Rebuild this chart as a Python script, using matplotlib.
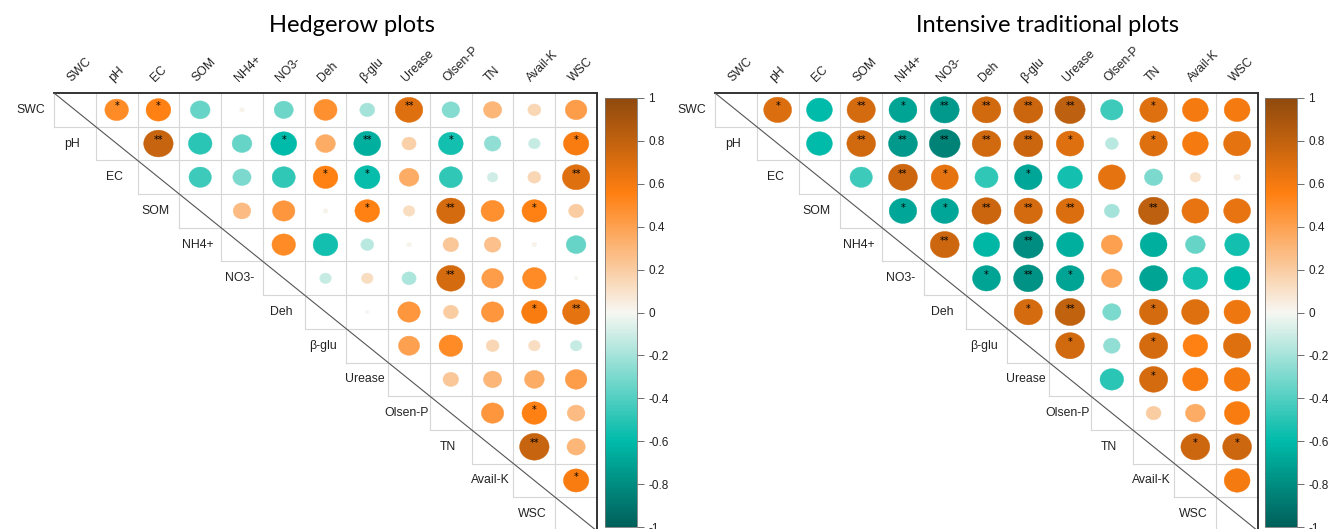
import numpy as np
import matplotlib
matplotlib.use("Agg")
import matplotlib.pyplot as plt
from matplotlib.patches import Ellipse
from matplotlib.colors import LinearSegmentedColormap, Normalize
from matplotlib.cm import ScalarMappable

variables = ["SWC", "pH", "EC", "SOM", "NH4+", "NO3-", "Deh", "β-glu",
             "Urease", "Olsen-P", "TN", "Avail-K", "WSC"]

# upper triangle: row i holds r(i, j) for j = i+1 .. 12
hedge_r = [
    [0.50, 0.55, -0.35, 0.02, -0.33, 0.48, -0.20, 0.68, -0.28, 0.30, 0.15, 0.42],
    [0.78, -0.50, -0.35, -0.60, 0.35, -0.65, 0.18, -0.55, -0.25, -0.12, 0.58],
    [-0.45, -0.30, -0.48, 0.55, -0.58, 0.35, -0.48, -0.10, 0.15, 0.68],
    [0.28, 0.45, 0.02, 0.55, 0.12, 0.72, 0.48, 0.55, 0.20],
    [0.50, -0.55, -0.15, 0.02, 0.22, 0.25, 0.02, -0.35],
    [-0.12, 0.12, -0.18, 0.72, 0.42, 0.50, 0.01],
    [0.01, 0.45, 0.20, 0.45, 0.58, 0.66],
    [0.40, 0.50, 0.15, 0.12, -0.12],
    [0.22, 0.30, 0.35, 0.42],
    [0.45, 0.55, 0.28],
    [0.78, 0.30],
    [0.58],
]
hedge_sig = [
    ["*", "*", "", "", "", "", "", "**", "", "", "", ""],
    ["**", "", "", "*", "", "**", "", "*", "", "", "*"],
    ["", "", "", "*", "*", "", "", "", "", "**"],
    ["", "", "", "*", "", "**", "", "*", ""],
    ["", "", "", "", "", "", "", ""],
    ["", "", "", "**", "", "", ""],
    ["", "", "", "", "*", "**"],
    ["", "", "", "", ""],
    ["", "", "", ""],
    ["", "*", ""],
    ["**", ""],
    ["*"],
]

intens_r = [
    [0.70, -0.60, 0.72, -0.70, -0.75, 0.74, 0.76, 0.82, -0.45, 0.68, 0.60, 0.60],
    [-0.60, 0.74, -0.75, -0.85, 0.74, 0.76, 0.68, -0.15, 0.68, 0.60, 0.66],
    [-0.45, 0.75, 0.66, -0.48, -0.68, -0.55, 0.66, -0.30, 0.10, 0.04],
    [-0.68, -0.68, 0.76, 0.72, 0.70, -0.20, 0.82, 0.65, 0.65],
    [0.75, -0.62, -0.80, -0.65, 0.40, -0.65, -0.35, -0.55],
    [-0.70, -0.78, -0.70, 0.38, -0.70, -0.55, -0.60],
    [0.72, 0.80, -0.30, 0.72, 0.68, 0.62],
    [0.74, -0.25, 0.72, 0.55, 0.68],
    [-0.50, 0.72, 0.58, 0.60],
    [0.20, 0.35, 0.58],
    [0.75, 0.75],
    [0.60],
]
intens_sig = [
    ["*", "", "**", "*", "**", "**", "**", "**", "", "*", "", ""],
    ["", "**", "**", "**", "**", "**", "*", "", "*", "", ""],
    ["", "**", "*", "", "*", "", "", "", "", ""],
    ["*", "*", "**", "**", "**", "", "**", "", ""],
    ["**", "", "**", "", "", "", "", ""],
    ["*", "**", "*", "", "", "", ""],
    ["*", "**", "", "*", "", ""],
    ["*", "", "*", "", ""],
    ["", "*", "", ""],
    ["", "", ""],
    ["*", "*"],
    [""],
]

cbar_ticks = [-1, -0.8, -0.6, -0.4, -0.2, 0, 0.2, 0.4, 0.6, 0.8, 1]

cmap = LinearSegmentedColormap.from_list("tealorange", [
    (0.0, "#00605A"), (0.2, "#00BBA9"), (0.5, "#F7F7F2"),
    (0.78, "#FF7F10"), (1.0, "#8F4A0E")])
norm = Normalize(-1, 1)

W, H = 1332, 529
LBL = dict(family="Liberation Sans", fontsize=8.8, color="#222222")


def draw_panel(ax, r_rows, sig_rows, cell_w, cell_h):
    n = len(variables)
    ax.set_xlim(0, n)
    ax.set_ylim(n, 0)
    ax.axis("off")
    grid = "#D6D6D6"
    # cell grid of the upper triangle
    for i in range(n):
        ax.plot([i, n], [i + 1, i + 1], color=grid, lw=0.8, clip_on=False)
        ax.plot([i, i], [0, i + 1], color=grid, lw=0.8, clip_on=False)
    ax.plot([0, n], [0, 0], color="#333333", lw=1.4, clip_on=False)
    ax.plot([n, n], [0, n], color="#333333", lw=1.4, clip_on=False)
    ax.plot([0, n], [0, n], color="#555555", lw=0.8, clip_on=False)

    ratio = cell_h / cell_w * 1.1
    for i, row in enumerate(r_rows):
        for k, r in enumerate(row):
            j = i + 1 + k
            h = 0.9 * np.sqrt(abs(r))
            c = cmap(norm(r))
            ax.add_patch(Ellipse((j + 0.5, i + 0.5), h * ratio, h,
                                 facecolor=c, edgecolor=c, lw=0.3))
            s = sig_rows[i][k]
            if s:
                ax.text(j + 0.5, i + 0.4, s, ha="center", va="center",
                        fontsize=7, color="black")

    for i, name in enumerate(variables):
        ax.text(i - 0.56, i + 0.5, name, ha="center", va="center", **LBL)
        ax.text(i + 0.42, -0.33, name, ha="left", va="baseline", rotation=45,
                rotation_mode="anchor", clip_on=False, **LBL)


def draw_cbar(cax):
    cb = plt.colorbar(ScalarMappable(norm=norm, cmap=cmap), cax=cax)
    cb.set_ticks(cbar_ticks)
    cb.set_ticklabels(["%g" % t for t in cbar_ticks])
    cb.outline.set_edgecolor("#777777")
    cb.outline.set_linewidth(0.6)
    cax.tick_params(length=5, width=0.6, color="#555555", labelsize=8.5,
                    labelcolor="#222222", pad=3)
    for t in cax.get_yticklabels():
        t.set_family("Liberation Sans")


fig = plt.figure(figsize=(W / 100, H / 100), dpi=100)

ax1 = fig.add_axes([54 / W, (H - 531) / H, 543 / W, 438 / H])
draw_panel(ax1, hedge_r, hedge_sig, 543 / 13, 438 / 13)
cax1 = fig.add_axes([605 / W, (H - 527) / H, 32 / W, 429 / H])
draw_cbar(cax1)

ax2 = fig.add_axes([715 / W, (H - 531) / H, 543 / W, 438 / H])
draw_panel(ax2, intens_r, intens_sig, 543 / 13, 438 / 13)
cax2 = fig.add_axes([1265 / W, (H - 527) / H, 32 / W, 429 / H])
draw_cbar(cax2)

fig.text(352 / W, 1 - 32 / H, "Hedgerow plots", ha="center", va="baseline",
         fontsize=17, family="Lato")
fig.text(1048 / W, 1 - 32 / H, "Intensive traditional plots", ha="center",
         va="baseline", fontsize=17, family="Lato")

fig.savefig("out.png", dpi=100)
